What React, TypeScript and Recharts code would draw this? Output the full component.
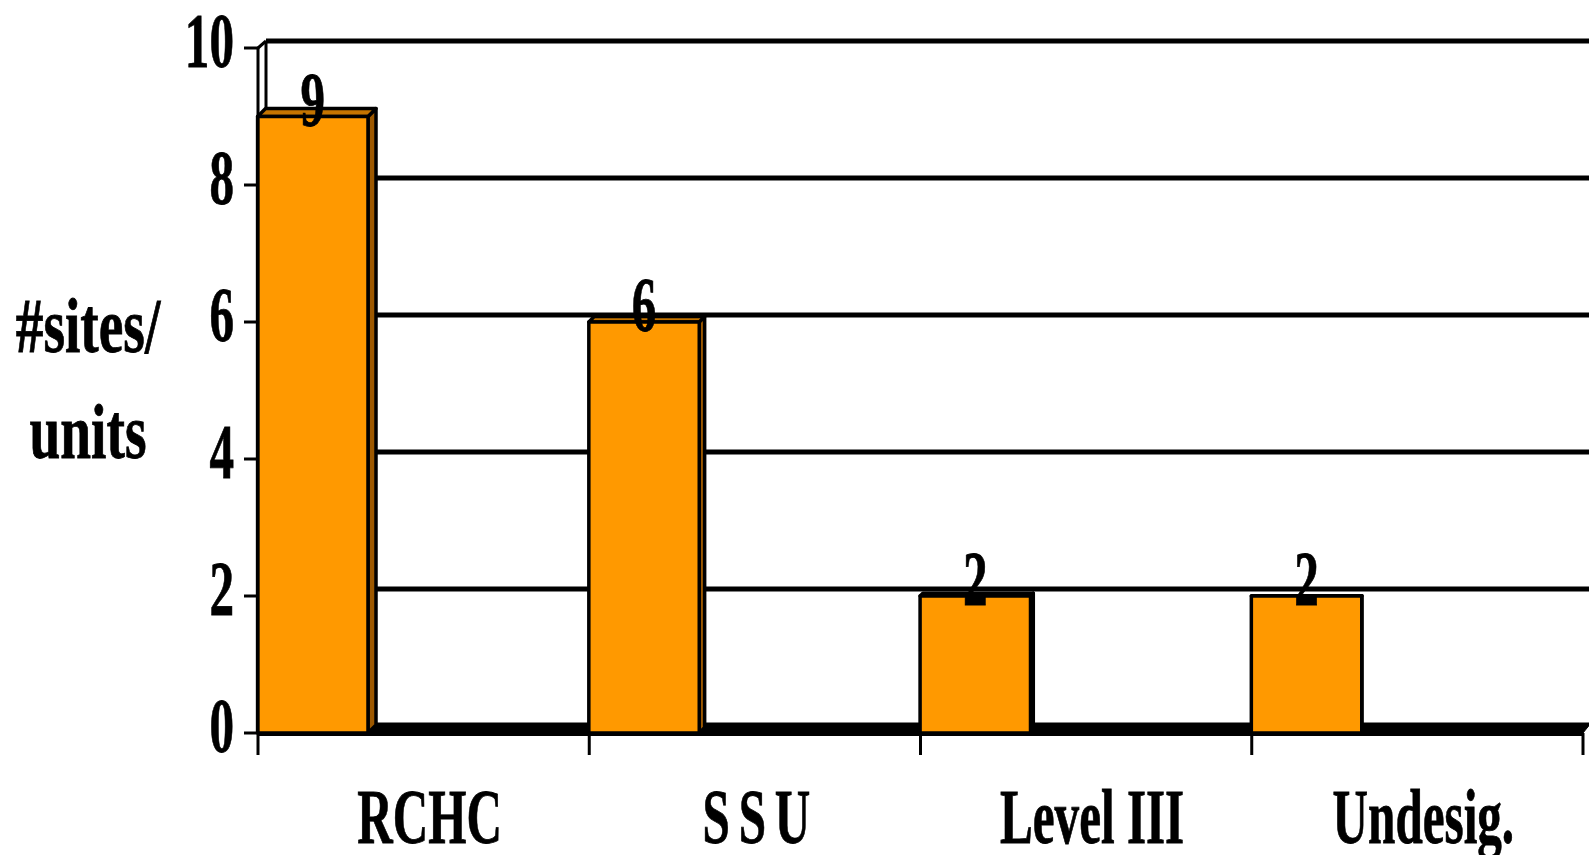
import { BarChart, Bar, XAxis, YAxis, CartesianGrid, LabelList } from 'recharts'

const categories = ['RCHC', 'SSU', 'Level III', 'Undesig.']
const siteCounts = [9, 6, 2, 2]
const yTicks = [0, 2, 4, 6, 8, 10]
const yTitleLines = ['#sites/', 'units']

const data = categories.map((name, i) => ({ name, sites: siteCounts[i] }))

const W = 1589
const H = 855
const X_AXIS_H = 30
const MARGIN = { top: 48, right: 6, bottom: 122 - X_AXIS_H, left: 0 }
const Y_AXIS_W = 258
const PLOT_LEFT = MARGIN.left + Y_AXIS_W
const PLOT_RIGHT = W - MARGIN.right
const PLOT_BOTTOM = H - MARGIN.bottom - X_AXIS_H
const PLOT_TOP = MARGIN.top
const BAND = (PLOT_RIGHT - PLOT_LEFT) / categories.length

// back wall offset of the 3D box
const WALL_DX = 8
const WALL_DY = 7

const FONT = '"Liberation Serif", "Times New Roman", serif'
const FONT_SIZE = 78
const SQUEEZE = 0.63

const ORANGE = '#FF9900'
const ORANGE_TOP = '#C47400'
const ORANGE_SIDE = '#9C5800'

function Squeezed({ x, y, anchor, children, spacing, squeeze = SQUEEZE }: any) {
  return (
    <text
      transform={`translate(${x},${y}) scale(${squeeze},1)`}
      textAnchor={anchor}
      fontFamily={FONT}
      fontWeight="bold"
      fontSize={FONT_SIZE}
      letterSpacing={spacing}
      stroke="#000"
      strokeWidth={0.8}
      fill="#000"
    >
      {children}
    </text>
  )
}

function GridLine(props: any) {
  const x1 = Number(props.x1)
  const x2 = Number(props.x2)
  const y1 = Number(props.y1)
  const isFloor = y1 > PLOT_BOTTOM - 30
  const isTop = y1 < PLOT_TOP + 30
  if (isFloor) {
    // top of the floor slab seen edge-on
    return (
      <polygon
        points={`${x1},${y1} ${x1 + WALL_DX},${y1 - 10} ${x2 + WALL_DX},${y1 - 10} ${x2},${y1}`}
        fill="#000"
        stroke="#000"
        strokeWidth={1}
      />
    )
  }
  return (
    <g>
      <line
        x1={x1 + WALL_DX}
        x2={x2 + WALL_DX}
        y1={y1 - WALL_DY}
        y2={y1 - WALL_DY}
        stroke="#000"
        strokeWidth={5}
      />
      {isTop && (
        <g stroke="#000" strokeWidth={3} fill="none">
          <line x1={x1 + WALL_DX} x2={x1 + WALL_DX} y1={y1 - WALL_DY} y2={PLOT_BOTTOM - WALL_DY} />
          <line x1={x1} y1={y1} x2={x1 + WALL_DX} y2={y1 - WALL_DY} />
        </g>
      )}
    </g>
  )
}

// column with a lit front, a darker top and a shaded right side
function Column3D(props: any) {
  const { x, y, width, height, index } = props
  const d = Math.max(0, 8 - index * 2.6)
  const r = x + width
  const b = y + height
  return (
    <g stroke="#000" strokeWidth={3.5} strokeLinejoin="round">
      <polygon points={`${r},${y} ${r + d},${y - d} ${r + d},${b - d} ${r},${b}`} fill={ORANGE_SIDE} />
      <polygon points={`${x},${y} ${x + d},${y - d} ${r + d},${y - d} ${r},${y}`} fill={ORANGE_TOP} />
      <rect x={x} y={y} width={width} height={height} fill={ORANGE} />
    </g>
  )
}

function ValueLabel(props: any) {
  const { x, y, width, value } = props
  return (
    <Squeezed x={x + width / 2} y={y + 9} anchor="middle">
      {value}
    </Squeezed>
  )
}

function CategoryTick(props: any) {
  const { x, payload, index } = props
  const left = x - BAND / 2
  const right = x + BAND / 2
  const spaced = payload.value === 'SSU'
  return (
    <g>
      {/* front edge of the floor slab */}
      <rect x={left} y={PLOT_BOTTOM - 1} width={BAND} height={4} fill="#000" />
      <line x1={left} x2={left} y1={PLOT_BOTTOM} y2={PLOT_BOTTOM + 22} stroke="#000" strokeWidth={3} />
      {index === categories.length - 1 && (
        <line x1={right} x2={right} y1={PLOT_BOTTOM} y2={PLOT_BOTTOM + 22} stroke="#000" strokeWidth={3} />
      )}
      <Squeezed x={x + 6} y={PLOT_BOTTOM + 110} anchor="middle" spacing={spaced ? 14 : 0}>
        {payload.value}
      </Squeezed>
    </g>
  )
}

function ValueTick(props: any) {
  const { x, y, payload } = props
  return (
    <Squeezed x={x - 10} y={y + 19} anchor="end">
      {payload.value}
    </Squeezed>
  )
}

function YTitle() {
  return (
    <g>
      <Squeezed x={88} y={352} anchor="middle" squeeze={0.71}>
        {yTitleLines[0]}
      </Squeezed>
      <Squeezed x={88} y={458} anchor="middle" squeeze={0.71}>
        {yTitleLines[1]}
      </Squeezed>
    </g>
  )
}

export default function App() {
  return (
    <div style={{ position: 'absolute', left: 0, top: 0, background: '#fff' }}>
      <BarChart width={W} height={H} data={data} margin={MARGIN} barSize={BAND / 3}>
        <CartesianGrid vertical={false} horizontal={(p: any) => <GridLine key={p.key} {...p} />} />
        <XAxis
          dataKey="name"
          height={X_AXIS_H}
          axisLine={false}
          tickLine={false}
          tick={<CategoryTick />}
          interval={0}
        />
        <YAxis
          width={Y_AXIS_W}
          domain={[0, 10]}
          ticks={yTicks}
          interval={0}
          tickSize={14}
          tickMargin={0}
          axisLine={{ stroke: '#000', strokeWidth: 3 }}
          tickLine={{ stroke: '#000', strokeWidth: 3 }}
          tick={<ValueTick />}
          label={{ content: () => <YTitle /> }}
        />
        <Bar
          dataKey="sites"
          isAnimationActive={false}
          shape={(p: any) => <Column3D {...p} x={p.x - (BAND - p.width) / 2} />}
        >
          <LabelList
            dataKey="sites"
            content={(p: any) => <ValueLabel {...p} x={p.x - (BAND - p.width) / 2} />}
          />
        </Bar>
      </BarChart>
    </div>
  )
}
